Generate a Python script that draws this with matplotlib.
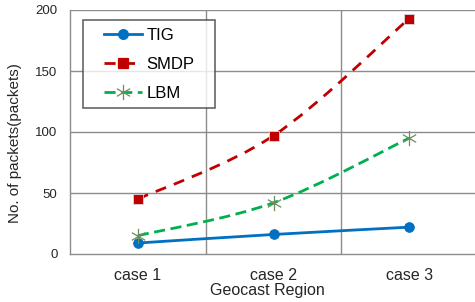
import matplotlib
matplotlib.use("Agg")
import matplotlib.pyplot as plt
from matplotlib.path import Path
from matplotlib.patches import PathPatch
from matplotlib.lines import Line2D
from matplotlib.offsetbox import DrawingArea
import numpy as np

plt.rcParams['font.family'] = ['Liberation Sans', 'DejaVu Sans']

categories = ["case 1", "case 2", "case 3"]
tig = [9, 16, 22]
smdp = [45, 97, 193]
lbm = [15, 42, 95]

fig = plt.figure(figsize=(4.75, 3.02), dpi=100)
ax = fig.add_axes([70/475, 48/302, 407/475, 244/302])
ax.set_xlim(0, 3)
ax.set_ylim(0, 200)
xs = np.arange(len(categories)) + 0.5

def smooth_path(x, y):
    # Catmull-Rom style bezier through the data points (Excel smooth line)
    pts = np.column_stack([x, y]).astype(float)
    verts = [pts[0]]
    codes = [Path.MOVETO]
    n = len(pts)
    for i in range(n - 1):
        p0 = pts[i - 1] if i > 0 else pts[i]
        p1 = pts[i]
        p2 = pts[i + 1]
        p3 = pts[i + 2] if i + 2 < n else pts[i + 1]
        c1 = p1 + (p2 - p0) / 6.0
        c2 = p2 - (p3 - p1) / 6.0
        verts += [c1, c2, p2]
        codes += [Path.CURVE4] * 3
    return Path(verts, codes)

grid_c = '#8c8c8c'
for v in [50, 100, 150, 200]:
    ax.axhline(v, color=grid_c, lw=1, zorder=0)
for v in [1, 2, 3]:
    ax.axvline(v, color=grid_c, lw=1, zorder=0)
for s in ['top', 'right']:
    ax.spines[s].set_visible(False)
for s in ['left', 'bottom']:
    ax.spines[s].set_color(grid_c)
    ax.spines[s].set_linewidth(1)

star = [(0, 1), (0, -1), (0, 0), (0.87, 0.5), (-0.87, -0.5), (0, 0), (0.87, -0.5), (-0.87, 0.5)]
star_marker = Path(star, [Path.MOVETO, Path.LINETO, Path.MOVETO, Path.MOVETO, Path.LINETO, Path.MOVETO, Path.MOVETO, Path.LINETO])

series = [
    ("TIG", tig, '#0070C0', '-', 'o', '#0070C0', 7),
    ("SMDP", smdp, '#C00000', (0, (4, 3)), 's', '#C00000', 7.5),
    ("LBM", lbm, '#00B050', (0, (4, 2)), star_marker, '#6B8E5A', 11),
]
handles = []
for name, vals, col, ls, mk, mkc, ms in series:
    p = smooth_path(xs, vals)
    patch = PathPatch(p, facecolor='none', edgecolor=col, lw=2, linestyle=ls, transform=ax.transData, zorder=3)
    ax.add_patch(patch)
    if mk is star_marker:
        ax.plot(xs, vals, linestyle='none', marker=mk, markersize=ms, markeredgecolor=mkc, markerfacecolor='none', markeredgewidth=0.9, zorder=4)
    else:
        ax.plot(xs, vals, linestyle='none', marker=mk, markersize=ms, color=mkc, markeredgecolor='#d9d9d9' if mk == 's' else mkc, markeredgewidth=0.6, zorder=4)
    h = Line2D([], [], color=col, lw=2, linestyle=ls, marker=mk, markersize=ms,
               markerfacecolor=mkc if mk is not star_marker else 'none', markeredgecolor=mkc, markeredgewidth=0.9)
    handles.append(h)

ax.set_xticks(xs)
ax.set_xticklabels(categories, fontsize=11.5, color='#262626')
ax.set_yticks([0, 50, 100, 150, 200])
ax.set_yticklabels(['0', '50', '100', '150', '200'], fontsize=9.5, color='#262626')
ax.tick_params(length=0)
ax.tick_params(axis='x', pad=10)
ax.tick_params(axis='y', pad=9)
ax.set_xlabel("Geocast Region", fontsize=11.5, color='#262626', labelpad=0)
ax.xaxis.set_label_coords(197/407, -29/244)
ax.set_ylabel("No. of packets(packets)", fontsize=11, color='#262626')
ax.yaxis.set_label_coords(-48/407, 111/244)

leg = ax.legend(handles=handles, labels=[s[0] for s in series], loc='upper left',
                bbox_to_anchor=(13/407, 1 - 10/244), borderaxespad=0, fontsize=12, frameon=True, fancybox=False,
                edgecolor='#404040', handlelength=2.3, labelspacing=0.85, borderpad=0.45, handletextpad=0.25)
leg.get_frame().set_linewidth(1.2)
leg.set_zorder(5)
# extra horizontal padding inside the legend box
try:
    hb = leg._legend_handle_box
    hb._children = [DrawingArea(0, 1)] + list(hb._children) + [DrawingArea(0, 1)]
    hb.sep = 9.5
except Exception:
    pass

fig.savefig("out.png", dpi=100)
